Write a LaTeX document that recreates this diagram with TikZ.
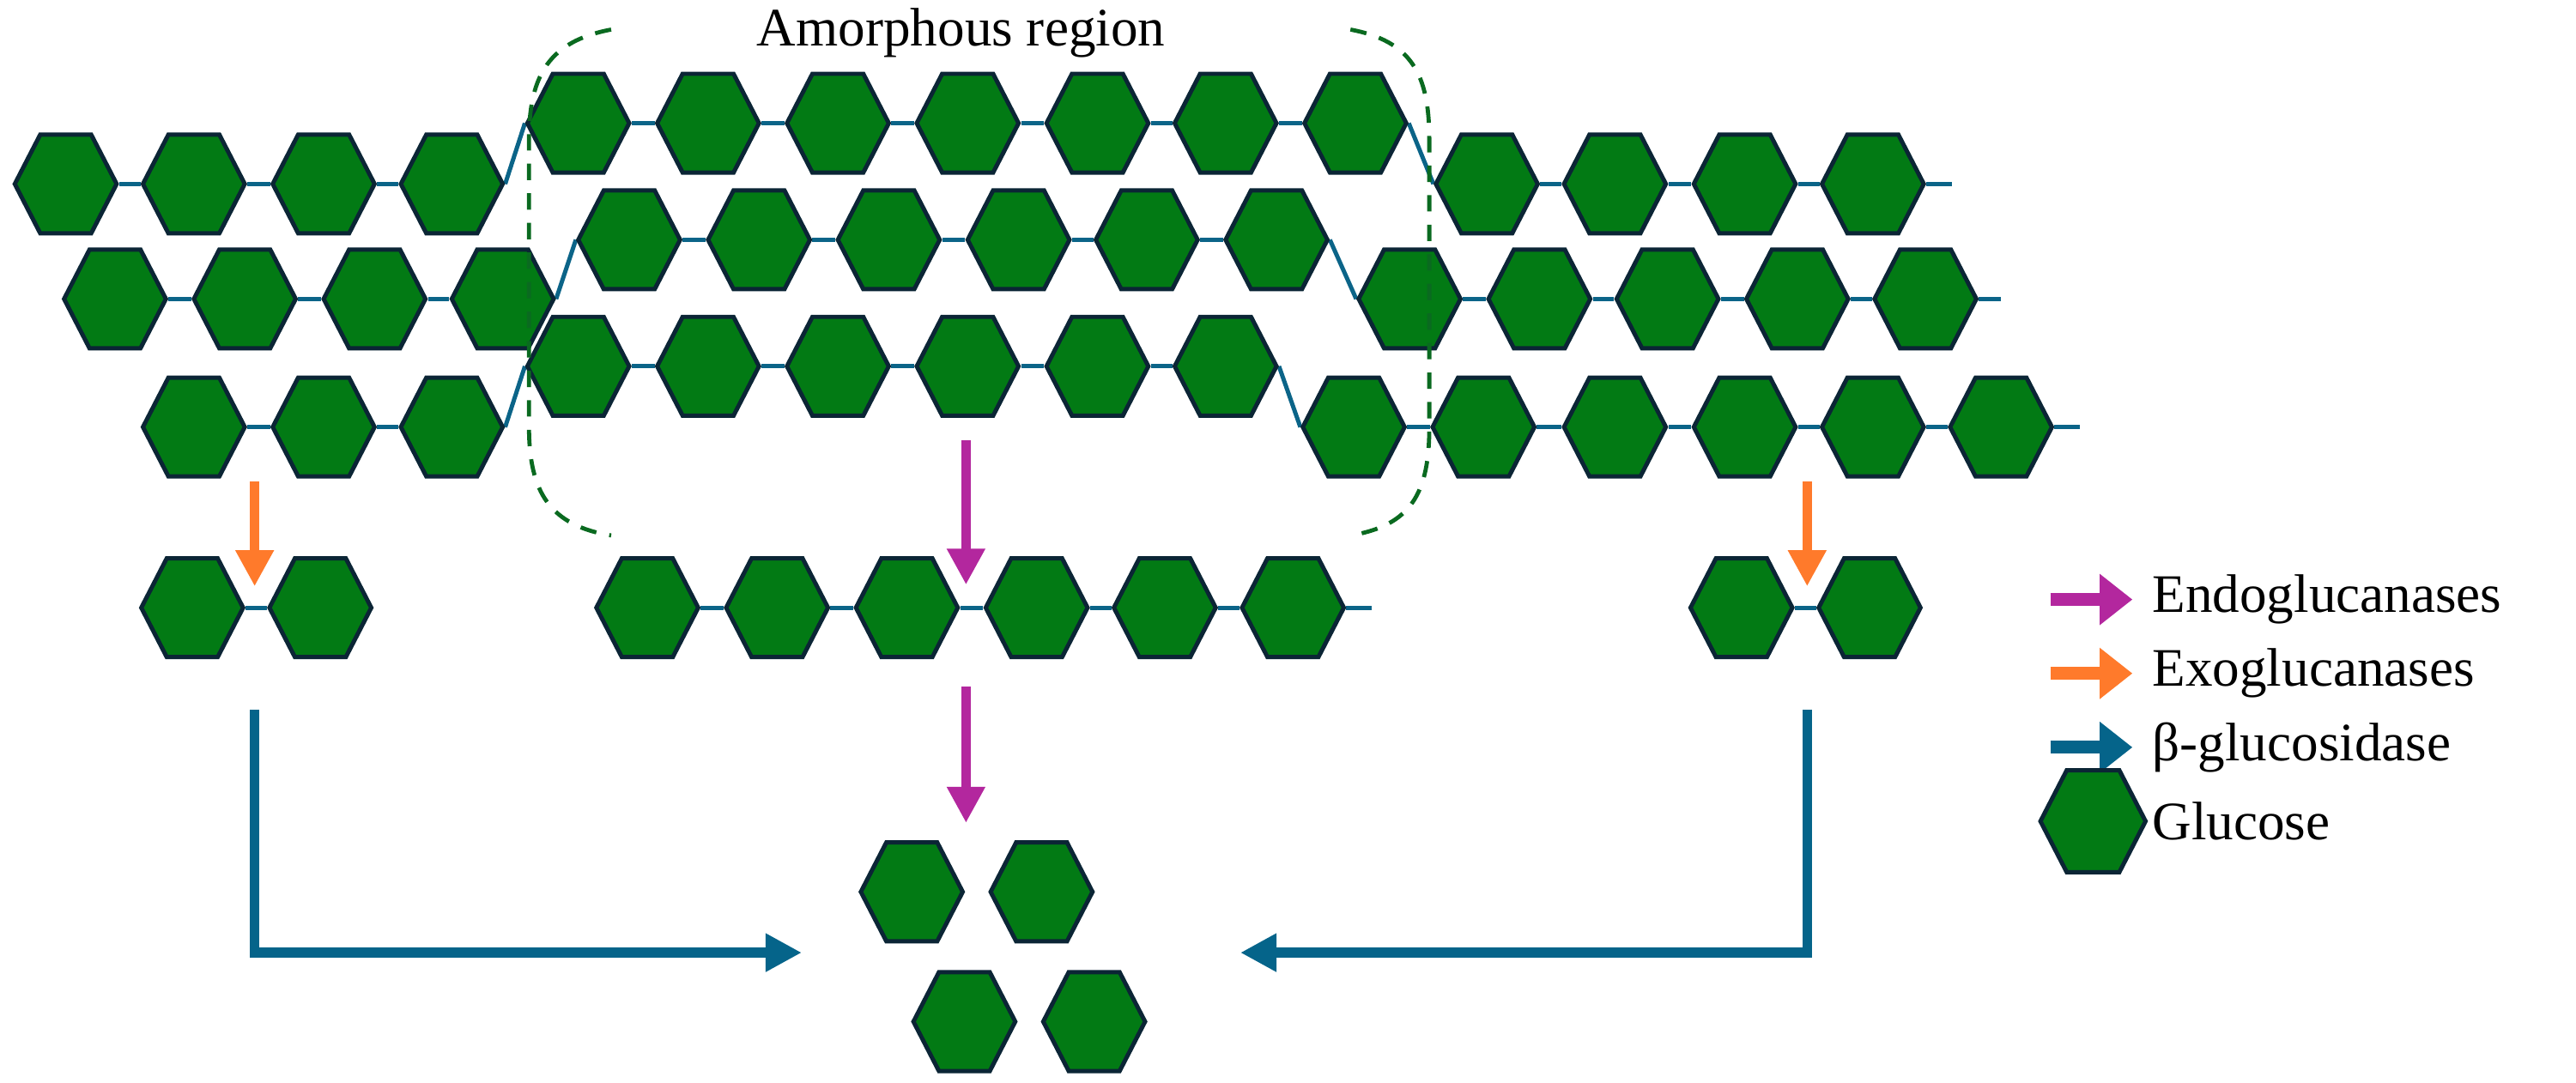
\documentclass[tikz,border=0pt]{standalone}
\usepackage{fontspec}
\setmainfont{Liberation Serif}
\usetikzlibrary{shapes.geometric,arrows.meta,backgrounds}
\definecolor{glc}{HTML}{027A14}
\definecolor{edge}{HTML}{0B2535}
\definecolor{link}{HTML}{0B6488}
\definecolor{bgl}{HTML}{05648A}
\definecolor{mag}{HTML}{B3279E}
\definecolor{ora}{HTML}{FF7A2B}
\definecolor{dashgreen}{HTML}{0A6A20}
\tikzset{
 hex/.style={regular polygon,regular polygon sides=6,minimum size=62pt,inner sep=0pt,fill=glc,draw=edge,line width=2.6pt,yscale=1.12,transform shape},
 lk/.style={draw=link,line width=2.6pt},
 arr/.style={line width=6pt,-{Triangle[length=22pt,width=22pt]}},
 larr/.style={line width=8pt,-{Triangle[length=20pt,width=30pt]}},
 lab/.style={font=\fontsize{33}{38}\selectfont,anchor=west,inner sep=0pt},
 amb/.style={draw=dashgreen,line width=2.5pt,dash pattern=on 10pt off 8pt}
}
\begin{document}
\begin{tikzpicture}[x=1pt,y=-1pt]
\useasboundingbox (0,0) rectangle (1568,659);
% row 1
\foreach \i/\x/\y in {1/40/112,2/118/112,3/197/112,4/275/112,5/352/75,6/431/75,7/510/75,8/589/75,9/668/75,10/746/75,11/825/75,12/905/112,13/983/112,14/1062/112,15/1140/112}
  \node[hex] (a\i) at (\x,\y) {};
\coordinate (at) at (1188,112);
% row 2
\foreach \i/\x/\y in {1/70/182,2/149/182,3/228/182,4/306/182,5/383/146,6/462/146,7/541/146,8/620/146,9/698/146,10/777/146,11/858/182,12/937/182,13/1015/182,14/1094/182,15/1172/182}
  \node[hex] (b\i) at (\x,\y) {};
\coordinate (bt) at (1218,182);
% row 3
\foreach \i/\x/\y in {1/118/260,2/197/260,3/275/260,4/352/223,5/431/223,6/510/223,7/589/223,8/668/223,9/746/223,10/824/260,11/903/260,12/983/260,13/1062/260,14/1140/260,15/1218/260}
  \node[hex] (c\i) at (\x,\y) {};
\coordinate (ct) at (1266,260);
% products
\node[hex] (p1) at (117,370) {};
\node[hex] (p2) at (195,370) {};
\foreach \i/\x in {1/394,2/473,3/552,4/631,5/709,6/787}
  \node[hex] (m\i) at (\x,370) {};
\coordinate (mt) at (835,370);
\node[hex] (q1) at (1060,370) {};
\node[hex] (q2) at (1138,370) {};
\node[hex] (g1) at (555,543) {};
\node[hex] (g2) at (634,543) {};
\node[hex] (g3) at (587,622) {};
\node[hex] (g4) at (666,622) {};
\begin{scope}[on background layer]
\foreach \r in {a,b,c}{
  \foreach \i [evaluate=\i as \j using int(\i+1)] in {1,...,14}
    \draw[lk] (\r\i.east) -- (\r\j.west);
}
\draw[lk] (a15.east) -- (at);
\draw[lk] (b15.east) -- (bt);
\draw[lk] (c15.east) -- (ct);
\draw[lk] (p1.east) -- (p2.west);
\draw[lk] (q1.east) -- (q2.west);
\foreach \i [evaluate=\i as \j using int(\i+1)] in {1,...,5}
  \draw[lk] (m\i.east) -- (m\j.west);
\draw[lk] (m6.east) -- (mt);
\end{scope}
% amorphous region
\draw[amb] (372,18) .. controls (335,25) and (322,45) .. (322,85) -- (322,260) .. controls (322,300) and (335,320) .. (372,326);
\draw[amb] (822,18) .. controls (859,25) and (870,45) .. (870,85) -- (870,260) .. controls (870,300) and (859,320) .. (822,326);
\node[font=\fontsize{33}{38}\selectfont] (amr) at (585,20) {Amorphous region};
% arrows
\coordinate (o1s) at (155,293); \coordinate (o1e) at (155,357);
\coordinate (o2s) at (1100,293); \coordinate (o2e) at (1100,357);
\draw[arr,ora] (o1s) -- (o1e);
\draw[arr,ora] (o2s) -- (o2e);
\coordinate (e1s) at (588,268); \coordinate (e1e) at (588,356);
\coordinate (e2s) at (588,418); \coordinate (e2e) at (588,501);
\draw[arr,mag] (e1s) -- (e1e);
\draw[arr,mag] (e2s) -- (e2e);
\coordinate (bl1) at (155,432); \coordinate (bl2) at (488,580);
\coordinate (br1) at (1100,432); \coordinate (br2) at (755,580);
\draw[arr,bgl] (bl1) |- (bl2);
\draw[arr,bgl] (br1) |- (br2);
% legend
\coordinate (l1) at (1248,365); \coordinate (l1e) at (1298,365);
\coordinate (l2) at (1248,410); \coordinate (l2e) at (1298,410);
\coordinate (l3) at (1248,455); \coordinate (l3e) at (1298,455);
\draw[larr,mag] (l1) -- (l1e);
\draw[larr,ora] (l2) -- (l2e);
\draw[larr,bgl] (l3) -- (l3e);
\node[lab] (t1) at (1310,365) {Endoglucanases};
\node[lab] (t2) at (1310,410) {Exoglucanases};
\node[lab] (t3) at (1310,455) {β-glucosidase};
\node[hex,minimum size=64pt] (lg) at (1274,500) {};
\node[lab] (t4) at (1310,500) {Glucose};
\end{tikzpicture}
\end{document}
